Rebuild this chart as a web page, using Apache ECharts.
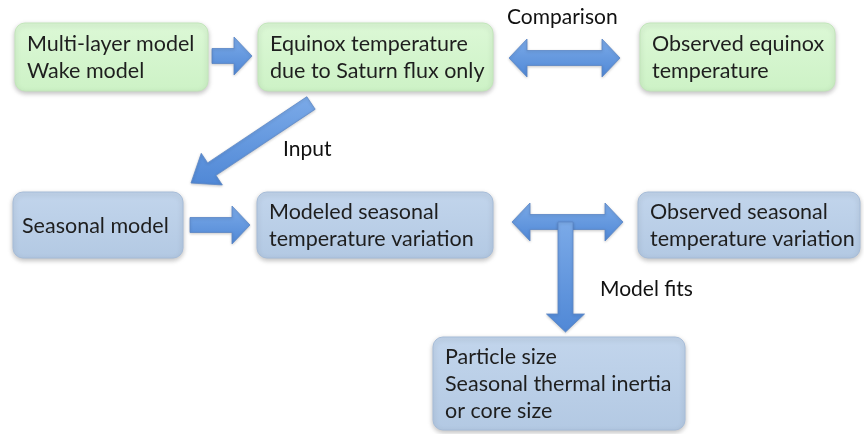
<!DOCTYPE html>
<html>
<head>
<meta charset="utf-8">
<title>Equinox / seasonal model flow</title>
<script src="https://cdn.jsdelivr.net/npm/echarts@6/dist/echarts.min.js"></script>
<style>
  html, body { margin: 0; padding: 0; background: #fff; }
  #main { width: 864px; height: 434px; }
</style>
</head>
<body>
<div id="main"></div>
<script>
// boxes of the flow chart (diagram units = page pixels)
const boxText = [
  'Multi-layer model\nWake model',
  'Equinox temperature\ndue to Saturn flux only',
  'Observed equinox\ntemperature',
  'Seasonal model',
  'Modeled seasonal\ntemperature variation',
  'Observed seasonal\ntemperature variation',
  'Particle size\nSeasonal thermal inertia\nor core size'
];
const boxGroup = ['equinox', 'equinox', 'equinox', 'seasonal', 'seasonal', 'seasonal', 'seasonal'];
const boxLeft = [15, 258, 640, 13, 257, 638, 433];
const boxTop = [23, 23, 23, 192, 192, 192, 337];
const boxRight = [208, 493, 835, 183, 493, 860, 685];
const boxBottom = [91, 91, 91, 258, 258, 258, 430];

// arrows: start -> end, double headed or not
const arrowFromX = [212, 509, 311, 190, 512, 565.5];
const arrowFromY = [56, 58, 103, 225, 222, 222];
const arrowToX = [252, 620, 191, 250, 623, 565.5];
const arrowToY = [56, 58, 183, 225, 222, 332];
const arrowDouble = [0, 1, 0, 0, 1, 0];

// free labels
const noteText = ['Comparison', 'Input', 'Model fits'];
const noteX = [507, 283, 600];
const noteY = [17, 149, 289];

const FONT = 'Lato, "Open Sans", sans-serif';

let myChart = echarts.init(document.getElementById('main'));

const boxData = boxText.map((t, i) => [boxLeft[i], boxTop[i], boxRight[i], boxBottom[i]]);
const arrowData = arrowFromX.map((x, i) => [x, arrowFromY[i], arrowToX[i], arrowToY[i], arrowDouble[i]]);
const noteData = noteText.map((t, i) => [noteX[i], noteY[i]]);

function boxFill(group) {
  if (group === 'equinox') {
    return new echarts.graphic.LinearGradient(0, 0, 0, 1, [
      { offset: 0, color: '#dcf8d6' },
      { offset: 1, color: '#cdf2c6' }
    ]);
  }
  return new echarts.graphic.LinearGradient(0, 0, 0, 1, [
    { offset: 0, color: '#c2d5ec' },
    { offset: 1, color: '#b3c9e3' }
  ]);
}

function renderBox(params, api) {
  const i = params.dataIndex;
  const p0 = api.coord([api.value(0), api.value(1)]);
  const p1 = api.coord([api.value(2), api.value(3)]);
  const green = boxGroup[i] === 'equinox';
  return {
    type: 'group',
    children: [
      {
        type: 'rect',
        shape: { x: p0[0], y: p0[1], width: p1[0] - p0[0], height: p1[1] - p0[1], r: 10 },
        style: {
          fill: boxFill(boxGroup[i]),
          stroke: green ? '#c2e6ba' : '#a6bcd8',
          lineWidth: 1,
          shadowBlur: 5,
          shadowOffsetY: 2,
          shadowColor: 'rgba(0,0,0,0.25)'
        }
      },
      {
        type: 'text',
        style: {
          text: boxText[i],
          x: p0[0] + (i === 3 ? 9 : 12),
          y: (p0[1] + p1[1]) / 2 + 1,
          verticalAlign: 'middle',
          align: 'left',
          font: '21.5px ' + FONT,
          lineHeight: 27,
          fill: '#1e1e1e'
        }
      }
    ]
  };
}

function renderArrow(params, api) {
  const P = api.coord([api.value(0), api.value(1)]);
  const Q = api.coord([api.value(2), api.value(3)]);
  const dbl = api.value(4) === 1;
  const dx = Q[0] - P[0], dy = Q[1] - P[1];
  const len = Math.sqrt(dx * dx + dy * dy);
  const ux = dx / len, uy = dy / len;
  const nx = -uy, ny = ux;
  const w = 7.5, h = 19;
  const hl = (Math.abs(ux) > 0.1 && Math.abs(uy) > 0.1) ? 25 : 18;
  const pt = (base, s) => [base[0] + nx * s, base[1] + ny * s];
  const B = [Q[0] - ux * hl, Q[1] - uy * hl];
  let pts;
  if (dbl) {
    const A = [P[0] + ux * hl, P[1] + uy * hl];
    pts = [pt(A, w), pt(B, w), pt(B, h), Q, pt(B, -h), pt(B, -w),
           pt(A, -w), pt(A, -h), P, pt(A, h)];
  } else {
    pts = [pt(P, w), pt(B, w), pt(B, h), Q, pt(B, -h), pt(B, -w), pt(P, -w)];
  }
  return {
    type: 'polygon',
    shape: { points: pts },
    style: {
      fill: new echarts.graphic.LinearGradient(0, 0, 0, 1, [
        { offset: 0, color: '#7baae8' },
        { offset: 1, color: '#5088d6' }
      ]),
      stroke: '#5a86c6',
      lineWidth: 0.8,
      shadowBlur: 3,
      shadowOffsetY: 1,
      shadowColor: 'rgba(0,0,0,0.2)'
    }
  };
}

function renderNote(params, api) {
  const p = api.coord([api.value(0), api.value(1)]);
  return {
    type: 'text',
    style: {
      text: noteText[params.dataIndex],
      x: p[0],
      y: p[1],
      verticalAlign: 'middle',
      align: 'left',
      font: '21px ' + FONT,
      fill: '#111'
    }
  };
}

myChart.setOption({
  animation: false,
  grid: { left: 0, right: 0, top: 0, bottom: 0 },
  xAxis: { type: 'value', min: 0, max: 864, show: false },
  yAxis: { type: 'value', min: 0, max: 434, inverse: true, show: false },
  series: [
    { type: 'custom', name: 'arrows', renderItem: renderArrow, data: arrowData, z: 1 },
    { type: 'custom', name: 'boxes', renderItem: renderBox, data: boxData, z: 2 },
    { type: 'custom', name: 'notes', renderItem: renderNote, data: noteData, z: 3 }
  ]
});
</script>
</body>
</html>
